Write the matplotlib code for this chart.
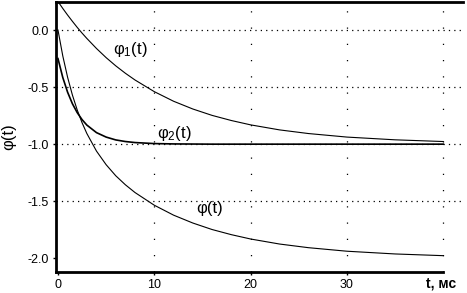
import matplotlib
matplotlib.use('Agg')
import matplotlib.pyplot as plt

# time, ms
t = [0, 0.5, 1, 1.5, 2, 2.5, 3, 4, 5, 6, 7, 8, 10, 12, 14, 16, 18, 20, 23, 26, 30, 35, 40]

# phi_1(t)
phi1 = [0.25, 0.189, 0.131, 0.076, 0.023, -0.027, -0.074, -0.162, -0.242, -0.314,
        -0.379, -0.438, -0.540, -0.624, -0.692, -0.748, -0.793, -0.831, -0.875,
        -0.907, -0.938, -0.962, -0.977]

# phi_2(t)
phi2 = [-0.25, -0.416, -0.545, -0.646, -0.724, -0.785, -0.833, -0.899, -0.938, -0.963,
        -0.977, -0.986, -0.995, -0.998, -0.999, -1.0, -1.0, -1.0, -1.0,
        -1.0, -1.0, -1.0, -1.0]

# phi(t)
phi = [0.0, -0.227, -0.414, -0.570, -0.701, -0.812, -0.907, -1.061, -1.180, -1.277,
       -1.356, -1.424, -1.535, -1.622, -1.691, -1.748, -1.793, -1.831, -1.875,
       -1.907, -1.938, -1.962, -1.977]

xticks = [0, 10, 20, 30]
xgrid = [10, 20, 30, 40]
yticks = [0.0, -0.5, -1.0, -1.5, -2.0]
ygrid = [0.0, -0.5, -1.0, -1.5]

plt.rcParams['font.family'] = ['Liberation Sans', 'DejaVu Sans']
plt.rcParams['mathtext.fontset'] = 'custom'
plt.rcParams['mathtext.rm'] = 'Liberation Sans'
plt.rcParams['mathtext.it'] = 'Liberation Sans'

fig = plt.figure(figsize=(4.67, 2.93), dpi=100)
ax = fig.add_axes([0.120, 0.0717, 0.8715, 0.9213])

# grid: sparse dots vertically, denser dots horizontally
for g in xgrid:
    ax.axvline(g, color='black', lw=0.9, ls=(0, (1, 12)), zorder=1)
for g in ygrid:
    ax.axhline(g, color='black', lw=0.9, ls=(0, (1, 3.3)), zorder=1)

# curves
ax.plot(t, phi1, color='black', lw=0.8, zorder=3)
ax.plot(t, phi2, color='black', lw=1.2, zorder=3)
ax.plot(t, phi, color='black', lw=0.8, zorder=3)

# curve labels
ax.text(7.5, -0.167, r'φ$_1$(t)', fontsize=12, ha='center', va='center')
ax.text(12.1, -0.91, r'φ$_2$(t)', fontsize=12, ha='center', va='center')
ax.text(15.7, -1.56, 'φ(t)', fontsize=12, ha='center', va='center')

ax.set_xlim(-0.2, 42.05)
ax.set_ylim(-2.12, 0.245)

ax.set_xticks(xticks)
ax.set_xticklabels([str(v) for v in xticks])
ax.set_yticks(yticks)
ax.set_yticklabels(['%.1f' % v for v in yticks])
ax.tick_params(labelsize=9, length=2, width=1, pad=3)

for side in ['top', 'left', 'bottom']:
    ax.spines[side].set_linewidth(2)
ax.spines['right'].set_visible(False)
ax.spines['bottom'].set_bounds(-0.2, 40)

ax.set_ylabel('φ(t)', fontsize=12, labelpad=8)
fig.text(441 / 467, 1 - 284 / 293, 't, мс', fontsize=10, fontweight='bold',
         ha='center', va='center')

fig.savefig('out.png', dpi=100)
